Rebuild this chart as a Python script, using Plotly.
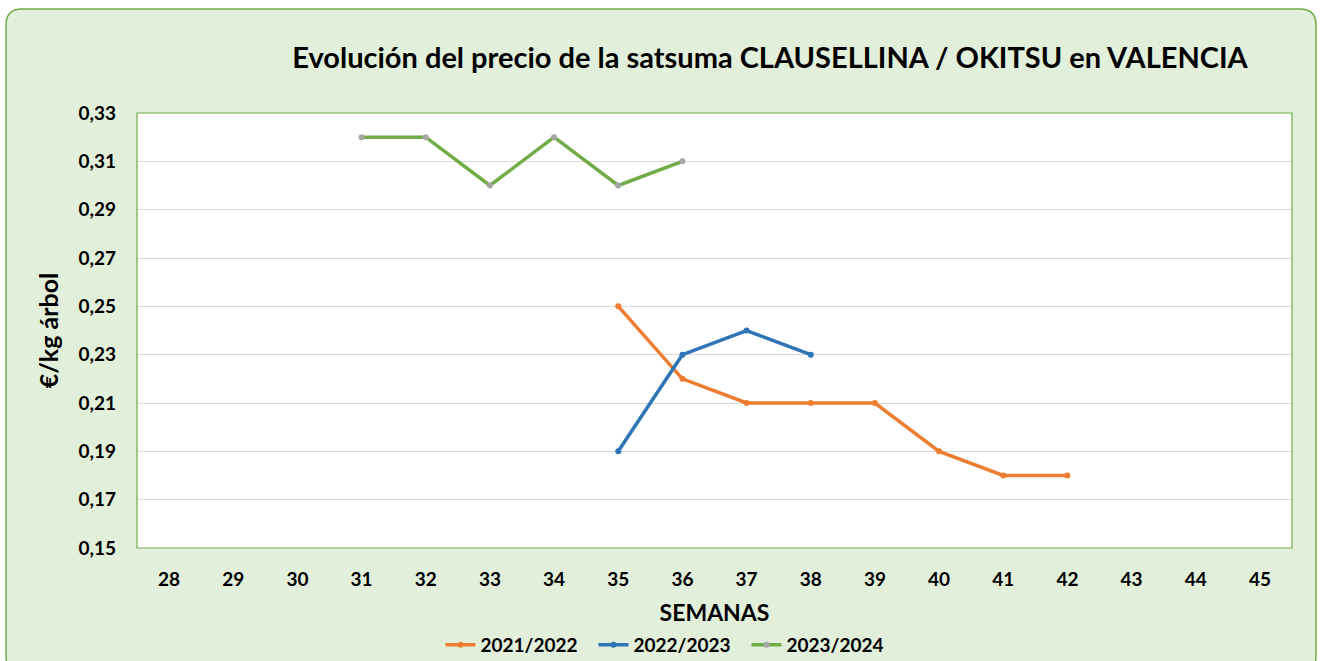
import plotly.graph_objects as go

weeks = [str(w) for w in range(28, 46)]

s1_name = "2021/2022"
s1_weeks = ["35", "36", "37", "38", "39", "40", "41", "42"]
s1_vals = [0.25, 0.22, 0.21, 0.21, 0.21, 0.19, 0.18, 0.18]

s2_name = "2022/2023"
s2_weeks = ["35", "36", "37", "38"]
s2_vals = [0.19, 0.23, 0.24, 0.23]

s3_name = "2023/2024"
s3_weeks = ["31", "32", "33", "34", "35", "36"]
s3_vals = [0.32, 0.32, 0.30, 0.32, 0.30, 0.31]

y_ticks = [0.15, 0.17, 0.19, 0.21, 0.23, 0.25, 0.27, 0.29, 0.31, 0.33]

W, H = 1322, 661
L, R, T, B = 137, 30, 113, 113
pw, ph = W - L - R, H - T - B

def px(x):
    return (x - L) / pw

def py(y):
    return (H - B - y) / ph

fig = go.Figure()
fig.add_trace(go.Scatter(x=s1_weeks, y=s1_vals, name=f"<b>{s1_name}</b>", mode="lines+markers",
                         line=dict(color="#ED7D31", width=3.5),
                         marker=dict(color="#ED7D31", size=6)))
fig.add_trace(go.Scatter(x=s2_weeks, y=s2_vals, name=f"<b>{s2_name}</b>", mode="lines+markers",
                         line=dict(color="#2E75B6", width=3.5),
                         marker=dict(color="#2E75B6", size=6)))
fig.add_trace(go.Scatter(x=s3_weeks, y=s3_vals, name=f"<b>{s3_name}</b>", mode="lines+markers",
                         line=dict(color="#70AD47", width=3.5),
                         marker=dict(color="#A5A5A5", size=6)))

# rounded outer background
x0, x1, y0, y1 = 6, 1316, 9, 672
r = 16
def P(x, y):
    return f"{px(x):.5f},{py(y):.5f}"
path = (f"M {P(x0 + r, y0)} L {P(x1 - r, y0)} Q {P(x1, y0)} {P(x1, y0 + r)} "
        f"L {P(x1, y1 - r)} Q {P(x1, y1)} {P(x1 - r, y1)} L {P(x0 + r, y1)} "
        f"Q {P(x0, y1)} {P(x0, y1 - r)} L {P(x0, y0 + r)} Q {P(x0, y0)} {P(x0 + r, y0)} Z")

shapes = [
    dict(type="path", xref="paper", yref="paper", path=path,
         fillcolor="#E2EFDA", line=dict(color="#70AD47", width=1.5), layer="below"),
    dict(type="rect", xref="paper", yref="paper", x0=0, x1=1, y0=0, y1=1,
         fillcolor="white", line=dict(width=0), layer="below"),
    dict(type="rect", xref="paper", yref="paper", x0=0, x1=1, y0=0, y1=1,
         fillcolor="rgba(0,0,0,0)", line=dict(color="#70AD47", width=1.2), layer="above"),
]

font_family = "Lato, 'Open Sans', sans-serif"

fig.update_layout(
    width=W, height=H,
    margin=dict(l=L, r=R, t=T, b=B, autoexpand=False),
    paper_bgcolor="white",
    plot_bgcolor="rgba(0,0,0,0)",
    separators=",.",
    shapes=shapes,
    font=dict(family=font_family, color="black"),
    title=dict(text="<b>Evolución del precio de la satsuma CLAUSELLINA / OKITSU en VALENCIA</b>",
               xref="container", x=770 / W, xanchor="center",
               yref="container", y=1 - 58 / H, yanchor="middle",
               font=dict(size=29, color="black", family=font_family)),
    xaxis=dict(type="category", categoryorder="array", categoryarray=weeks,
               range=[-0.5, len(weeks) - 0.5], showgrid=False, zeroline=False,
               tickvals=weeks, ticktext=[f"<b>{w}</b>" for w in weeks],
               tickfont=dict(size=19), ticks="", ticklen=0, ticklabelstandoff=18,
               automargin=False,
               title=dict(text="<b>SEMANAS</b>", font=dict(size=23), standoff=22)),
    yaxis=dict(range=[0.15, 0.33], tickvals=y_ticks,
               ticktext=[f"<b>{v:.2f}</b>".replace(".", ",") for v in y_ticks],
               showgrid=True, gridcolor="#D9D9D9", gridwidth=1, zeroline=False,
               tickfont=dict(size=19), ticks="", ticklabelstandoff=20,
               automargin=False,
               title=dict(text="<b>€/kg árbol</b>", font=dict(size=25), standoff=12)),
    legend=dict(orientation="h", xref="container", x=670 / W, xanchor="center",
                yref="container", y=1 - 645 / H, yanchor="middle",
                font=dict(size=19), bgcolor="rgba(0,0,0,0)", itemwidth=30,
                entrywidth=108, traceorder="normal"),
    showlegend=True,
)

fig.write_html("out.html", config={"displayModeBar": False},
               post_script="document.body.style.margin='0';document.body.style.overflow='hidden';")
